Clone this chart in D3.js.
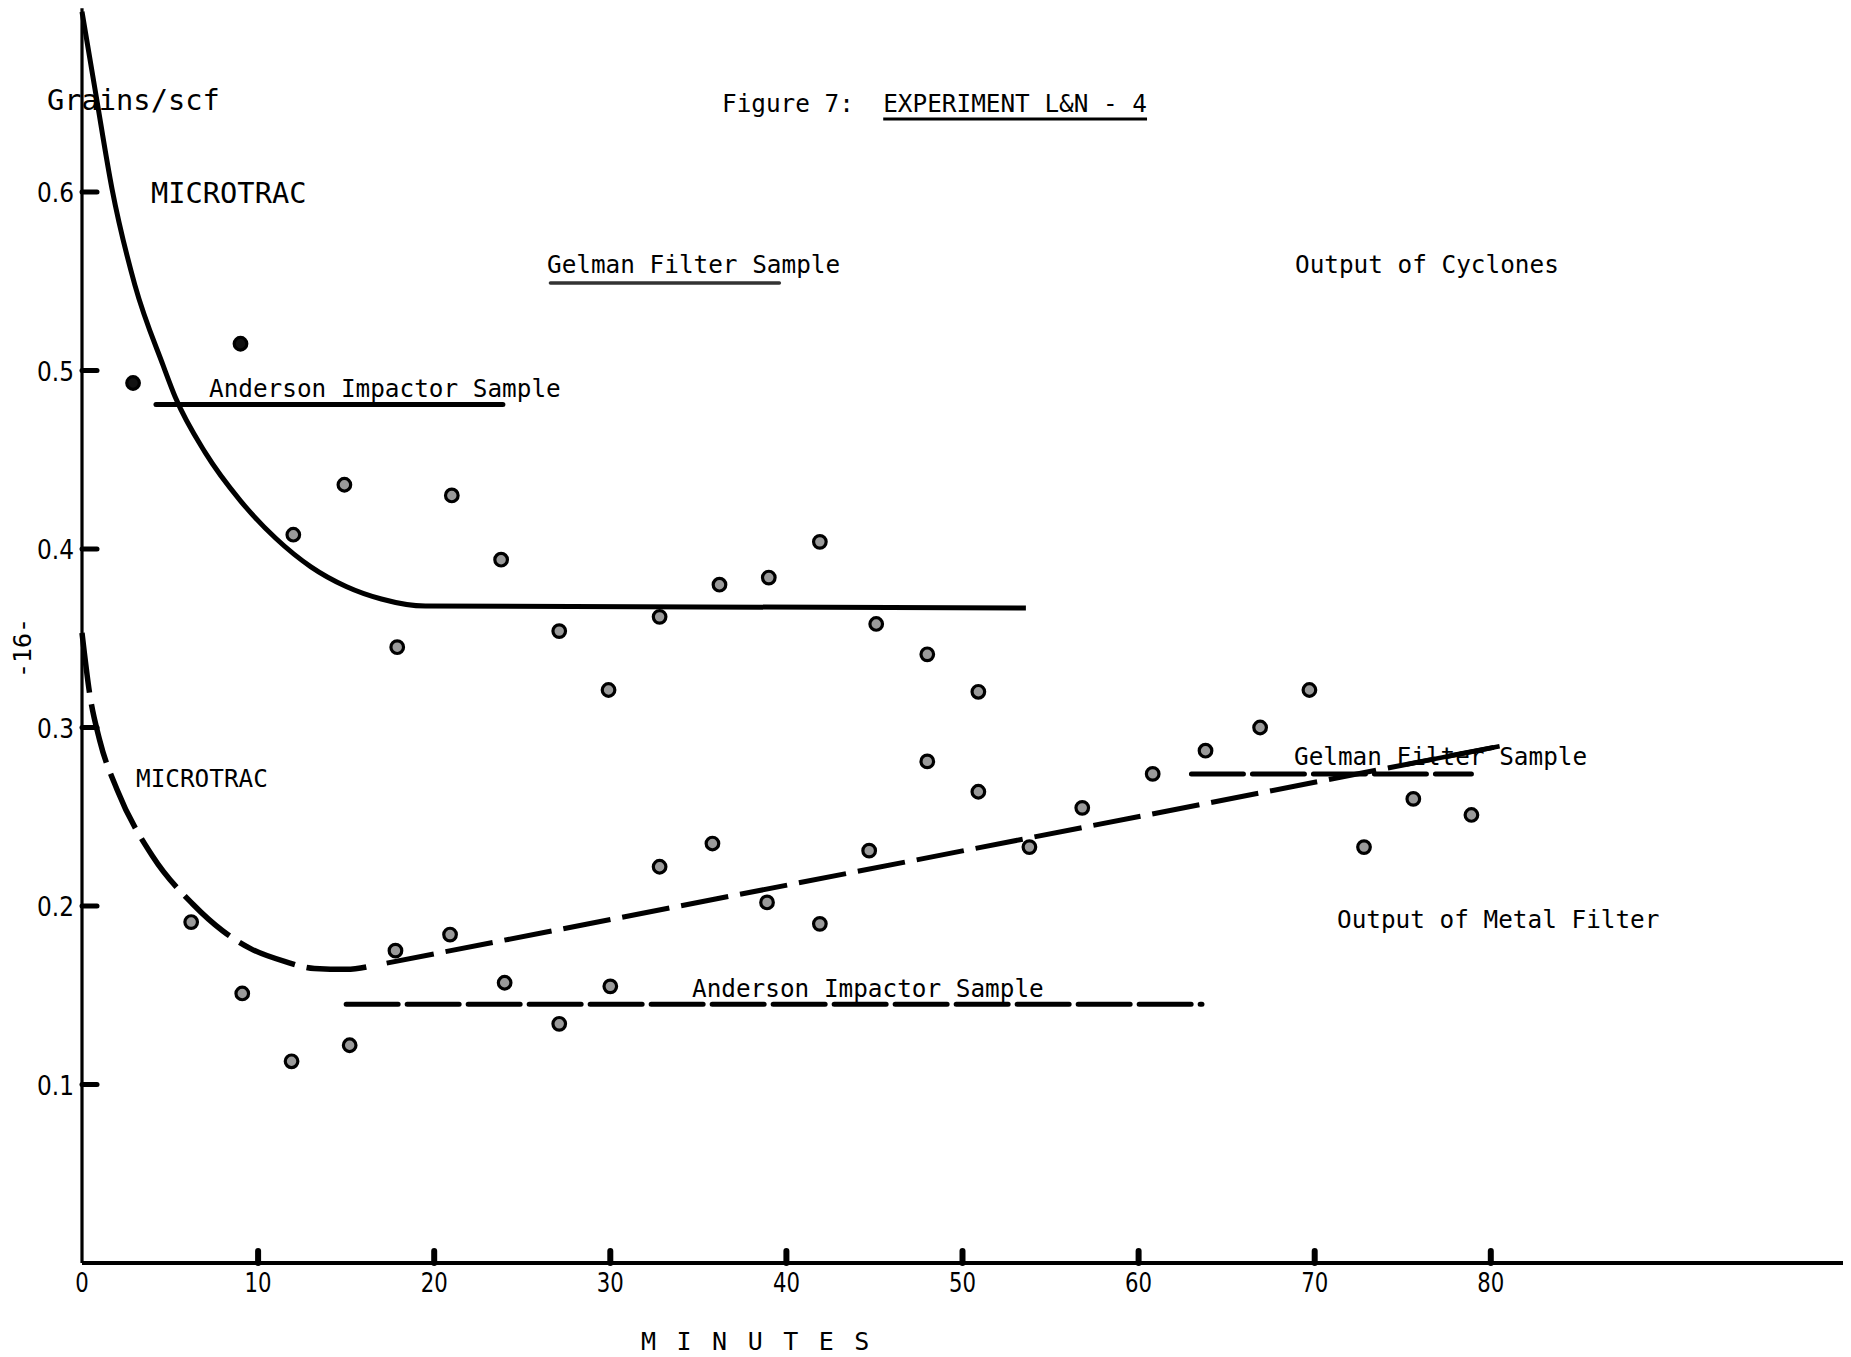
<!DOCTYPE html>
<html>
<head>
<meta charset="utf-8">
<script src="https://cdn.jsdelivr.net/npm/d3@7"></script>
<style>
  html, body { margin: 0; padding: 0; background: #fff; }
  svg { display: block; }
  text { font-family: "DejaVu Sans Mono", "Liberation Mono", monospace; fill: #000; }
  text.ylabel, text.xlabel { font-family: "DejaVu Sans", "Liberation Sans", sans-serif; }
</style>
</head>
<body>
<div id="chart"></div>
<script>

// Output of cyclones (upper scatter), minutes / grains per scf
const cycloneMinutes = [2.9, 9.0, 12.0, 14.9, 17.9, 21.0, 23.8, 27.1, 29.9, 32.8, 36.2, 39.0, 41.9, 45.1, 48.0, 50.9];
const cycloneValues  = [0.493, 0.515, 0.408, 0.436, 0.345, 0.430, 0.394, 0.354, 0.321, 0.362, 0.380, 0.384, 0.404, 0.358, 0.341, 0.320];

// Output of metal filter (lower scatter)
const metalMinutes = [6.2, 9.1, 11.9, 15.2, 17.8, 20.9, 24.0, 27.1, 30.0, 32.8, 35.8, 38.9, 41.9, 44.7, 48.0, 50.9, 53.8, 56.8, 60.8, 63.8, 66.9, 69.7, 72.8, 75.6, 78.9];
const metalValues  = [0.191, 0.151, 0.113, 0.122, 0.175, 0.184, 0.157, 0.134, 0.155, 0.222, 0.235, 0.202, 0.190, 0.231, 0.281, 0.264, 0.233, 0.255, 0.274, 0.287, 0.300, 0.321, 0.233, 0.260, 0.251];

// MICROTRAC traces
const upperCurveMinutes = [0, 0.8, 1.7, 3.0, 4.6, 5.3, 7.0, 9.0, 11.0, 13.0, 15.0, 17.0, 19.5, 53.6];
const upperCurveValues  = [0.701, 0.654, 0.602, 0.548, 0.503, 0.485, 0.454, 0.427, 0.406, 0.390, 0.379, 0.372, 0.368, 0.367];
const lowerCurveMinutes = [0, 0.45, 1.0, 2.0, 4.0, 6.3, 8.0, 9.6, 11.5, 13.2, 15.0, 16.7];
const lowerCurveValues  = [0.353, 0.318, 0.293, 0.265, 0.228, 0.201, 0.186, 0.176, 0.169, 0.165, 0.1645, 0.167];
const lowerTrendMinutes = [17.3, 80.5];
const lowerTrendValues  = [0.168, 0.2895];

// Sample averages (horizontal segments)
const sampleNames  = ["Anderson Impactor Sample", "Gelman Filter Sample", "Anderson Impactor Sample", "Gelman Filter Sample"];
const sampleStart  = [4.2, 26.6, 15.0, 63.0];
const sampleEnd    = [23.9, 39.6, 63.6, 78.9];
const sampleValue  = [0.481, 0.549, 0.145, 0.274];

const xTicks = [0, 10, 20, 30, 40, 50, 60, 70, 80];
const yTicks = [0.1, 0.2, 0.3, 0.4, 0.5, 0.6];
const yTickLabels = ["0.1", "0.2", "0.3", "0.4", "0.5", "0.6"];

const width = 1851, height = 1357;

const x = d3.scaleLinear().domain([0, 100]).range([82, 1843]);
const y = d3.scaleLinear().domain([0, 0.7]).range([1263, 13.5]);

const svg = d3.select("#chart").append("svg")
    .attr("width", width)
    .attr("height", height)
    .attr("viewBox", [0, 0, width, height]);

svg.append("rect").attr("width", width).attr("height", height).attr("fill", "#fff");

// Axes, drawn as plain lines like the typed original
svg.append("line")
    .attr("x1", x(0)).attr("x2", x(0))
    .attr("y1", y(0)).attr("y2", y(0.703))
    .attr("stroke", "#000").attr("stroke-width", 3.2);
svg.append("line")
    .attr("x1", x(0)).attr("x2", x(100))
    .attr("y1", y(0)).attr("y2", y(0))
    .attr("stroke", "#000").attr("stroke-width", 3.8);

// y ticks point inward
svg.selectAll(".ytick")
    .data(yTicks)
    .join("line")
    .attr("class", "ytick")
    .attr("x1", x(0)).attr("x2", x(0) + 15)
    .attr("y1", d => y(d)).attr("y2", d => y(d))
    .attr("stroke", "#000").attr("stroke-width", 5).attr("stroke-linecap", "round");

// narrow digits, squeezed to the typed width
svg.selectAll(".ylabel")
    .data(yTicks)
    .join("text")
    .attr("class", "ylabel")
    .attr("x", x(0) - 8)
    .attr("y", d => y(d) + 10)
    .attr("text-anchor", "end")
    .attr("font-size", 27)
    .attr("textLength", 37)
    .attr("lengthAdjust", "spacingAndGlyphs")
    .text((d, i) => yTickLabels[i]);

// x ticks are small bumps on the axis
svg.selectAll(".xtick")
    .data(xTicks.slice(1))
    .join("line")
    .attr("class", "xtick")
    .attr("x1", d => x(d)).attr("x2", d => x(d))
    .attr("y1", y(0)).attr("y2", y(0) - 12)
    .attr("stroke", "#000").attr("stroke-width", 6).attr("stroke-linecap", "round");

svg.selectAll(".xlabel")
    .data(xTicks)
    .join("text")
    .attr("class", "xlabel")
    .attr("x", d => x(d))
    .attr("y", 1292)
    .attr("text-anchor", "middle")
    .attr("font-size", 27)
    .attr("textLength", d => String(d).length * 13.5)
    .attr("lengthAdjust", "spacingAndGlyphs")
    .text(d => d);

// Curves
const line = d3.line().x(d => x(d[0])).y(d => y(d[1]));
const smooth = d3.line().x(d => x(d[0])).y(d => y(d[1])).curve(d3.curveMonotoneX);

svg.append("path")
    .datum(upperCurveMinutes.map((m, i) => [m, upperCurveValues[i]]))
    .attr("d", smooth)
    .attr("fill", "none").attr("stroke", "#000").attr("stroke-width", 5);

svg.append("path")
    .datum(lowerCurveMinutes.map((m, i) => [m, lowerCurveValues[i]]))
    .attr("d", smooth)
    .attr("fill", "none").attr("stroke", "#000").attr("stroke-width", 5.5)
    .attr("stroke-dasharray", "60,12");

const trend = lowerTrendMinutes.map((m, i) => [m, lowerTrendValues[i]]);
svg.append("path")
    .datum(trend)
    .attr("d", line)
    .attr("fill", "none").attr("stroke", "#000").attr("stroke-width", 5)
    .attr("stroke-dasharray", "48,12");

// last stretch of the trend is drawn solid
const slope = (trend[1][1] - trend[0][1]) / (trend[1][0] - trend[0][0]);
svg.append("path")
    .datum([[75.2, trend[0][1] + slope * (75.2 - trend[0][0])], trend[1]])
    .attr("d", line)
    .attr("fill", "none").attr("stroke", "#000").attr("stroke-width", 4.5);

// Sample segments
svg.selectAll(".sample")
    .data(sampleNames)
    .join("line")
    .attr("class", "sample")
    .attr("x1", (d, i) => x(sampleStart[i]))
    .attr("x2", (d, i) => x(sampleEnd[i]))
    .attr("y1", (d, i) => y(sampleValue[i]))
    .attr("y2", (d, i) => y(sampleValue[i]))
    .attr("stroke", (d, i) => i === 1 ? "#333" : "#000")
    .attr("stroke-width", (d, i) => i === 1 ? 3.5 : 5)
    .attr("stroke-linecap", "round")
    .attr("stroke-dasharray", (d, i) => i >= 2 ? "52,9" : null);

// Data points
const cyclonePts = cycloneMinutes.map((m, i) => [m, cycloneValues[i]]);
const metalPts = metalMinutes.map((m, i) => [m, metalValues[i]]);

svg.selectAll(".cyclone")
    .data(cyclonePts)
    .join("circle")
    .attr("class", "cyclone")
    .attr("cx", d => x(d[0]))
    .attr("cy", d => y(d[1]))
    .attr("r", 6.3)
    .attr("fill", (d, i) => i < 2 ? "#111" : "#9a9a9a")
    .attr("stroke", "#000").attr("stroke-width", 3.2);

svg.selectAll(".metal")
    .data(metalPts)
    .join("circle")
    .attr("class", "metal")
    .attr("cx", d => x(d[0]))
    .attr("cy", d => y(d[1]))
    .attr("r", 6.3)
    .attr("fill", "#9a9a9a")
    .attr("stroke", "#000").attr("stroke-width", 3.2);

// Annotations (pixel layout)
const labels = [
    {t: "Grains/scf", x: 47, y: 110, s: 28.7},
    {t: "MICROTRAC", x: 151, y: 203, s: 28.7},
    {t: "Gelman Filter Sample", x: 547, y: 273, s: 24.35},
    {t: "Output of Cyclones", x: 1295, y: 273, s: 24.35},
    {t: "Anderson Impactor Sample", x: 209, y: 397, s: 24.35},
    {t: "MICROTRAC", x: 136, y: 787, s: 24.35},
    {t: "Gelman Filter Sample", x: 1294, y: 765, s: 24.35},
    {t: "Output of Metal Filter", x: 1337, y: 928, s: 24.35},
    {t: "Anderson Impactor Sample", x: 692, y: 997, s: 24.35}
];
svg.selectAll(".anno")
    .data(labels)
    .join("text")
    .attr("class", "anno")
    .attr("x", d => d.x).attr("y", d => d.y)
    .attr("font-size", d => d.s)
    .attr("xml:space", "preserve")
    .text(d => d.t);

// Title with underlined part
const title = svg.append("text")
    .attr("x", 722).attr("y", 112)
    .attr("font-size", 24.35)
    .attr("xml:space", "preserve");
title.append("tspan").text("Figure 7:  ");
title.append("tspan").text("EXPERIMENT L&N - 4");
const start = title.node().getSubStringLength(0, 11);
const len = title.node().getSubStringLength(11, 18);
svg.append("line")
    .attr("x1", 722 + start).attr("x2", 722 + start + len)
    .attr("y1", 119).attr("y2", 119)
    .attr("stroke", "#000").attr("stroke-width", 3);

// Axis title and page number
svg.append("text")
    .attr("x", 641).attr("y", 1350)
    .attr("font-size", 25)
    .attr("letter-spacing", 20.5)
    .text("MINUTES");

svg.append("text")
    .attr("transform", "translate(31,648) rotate(-90)")
    .attr("text-anchor", "middle")
    .attr("font-size", 25)
    .text("-16-");

</script>
</body>
</html>
